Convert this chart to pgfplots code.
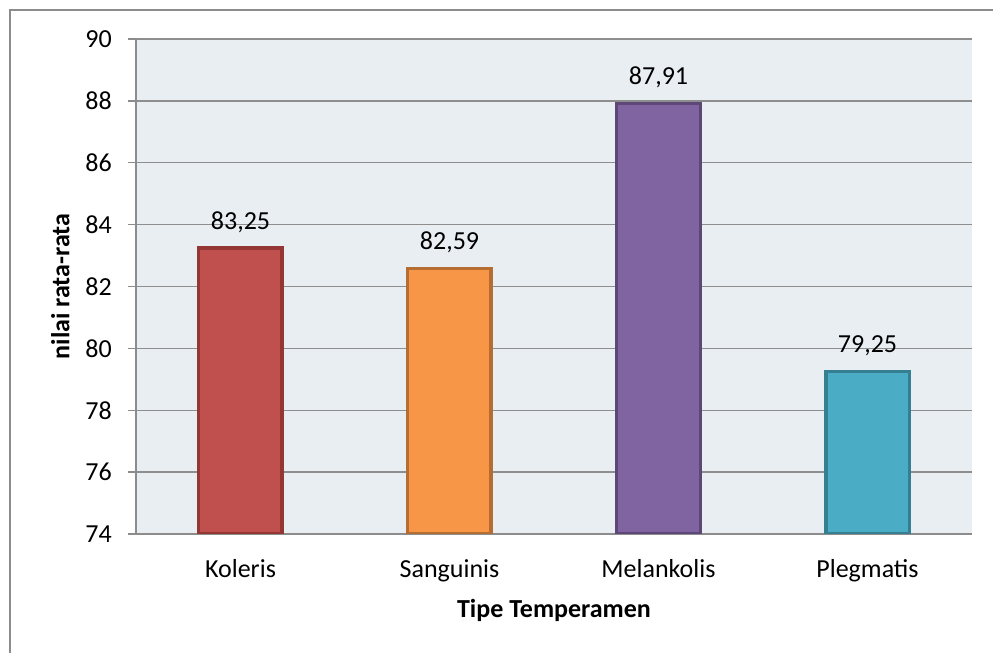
\documentclass[border=0pt]{standalone}
\usepackage{pgfplots}
\pgfplotsset{compat=1.18}
\usepackage{fontspec}
\setmainfont{Carlito}

\definecolor{plotbg}{HTML}{E8EEF2}
\definecolor{gridgray}{HTML}{8E8E8E}
\definecolor{framegray}{HTML}{8C8C8C}
\definecolor{kolfill}{HTML}{C0504D}\definecolor{koldraw}{HTML}{943634}
\definecolor{sanfill}{HTML}{F79646}\definecolor{sandraw}{HTML}{B66D31}
\definecolor{melfill}{HTML}{8064A2}\definecolor{meldraw}{HTML}{5C4776}
\definecolor{plefill}{HTML}{4BACC6}\definecolor{pledraw}{HTML}{357F93}

\newcommand{\chartfont}{\fontsize{19.5}{23}\selectfont}

\begin{document}
\begin{tikzpicture}
\useasboundingbox (-102pt,-89.25pt) rectangle (642.75pt,400.5pt);
% chart frame (left and top edges)
\draw[framegray, line width=1.5pt] (-94.5pt,-100pt) -- (-94.5pt,393pt) -- (660pt,393pt);
\begin{axis}[
  scale only axis,
  width=627pt, height=371.25pt,
  at={(0,0)}, anchor=south west,
  ymin=74, ymax=90, ytick={74,76,...,90},
  xmin=-0.5, xmax=3.5,
  xtick={0,1,2,3},
  xticklabels={Koleris, Sanguinis, Melankolis, Plegmatis},
  axis lines*=left,
  axis line style={framegray, line width=1pt},
  ymajorgrids,
  grid style={gridgray, line width=1.1pt},
  major tick length=6pt,
  tick align=outside,
  ytick style={framegray, line width=1pt},
  xtick style={draw=none},
  /pgf/number format/assume math mode=true,
  tick label style={font=\chartfont},
  yticklabel style={inner sep=0pt, xshift=-12pt},
  xticklabel style={anchor=base, inner sep=0pt, yshift=-26.25pt},
  axis background/.style={fill=plotbg},
  xlabel={\textbf{Tipe Temperamen}},
  ylabel={\textbf{nilai rata-rata}},
  label style={font=\chartfont},
  xlabel style={at={(axis description cs:0.5,-0.1677)}, anchor=base},
  ylabel style={at={(axis description cs:-0.0905,0.5)}, anchor=center},
  ybar, bar width=62.6pt,
  nodes near coords={\pgfmathprintnumber[assume math mode=true,use comma,fixed,fixed zerofill,precision=2]{\pgfplotspointmeta}},
  every node near coord/.append style={font=\chartfont, text=black, anchor=base, yshift=14pt},
]
\addplot[bar shift=0pt, fill=kolfill, draw=koldraw, line width=2.6pt] coordinates {(0,83.25)};
\addplot[bar shift=0pt, fill=sanfill, draw=sandraw, line width=2.6pt] coordinates {(1,82.59)};
\addplot[bar shift=0pt, fill=melfill, draw=meldraw, line width=2.6pt] coordinates {(2,87.91)};
\addplot[bar shift=0pt, fill=plefill, draw=pledraw, line width=2.6pt] coordinates {(3,79.25)};
\end{axis}
\end{tikzpicture}
\end{document}
